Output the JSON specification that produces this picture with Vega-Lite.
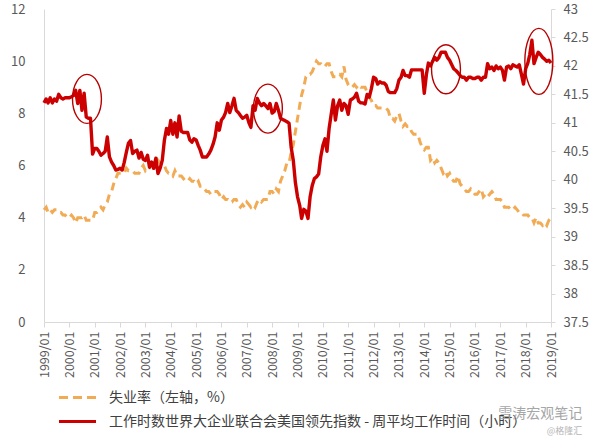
{
  "$schema": "https://vega.github.io/schema/vega-lite/v6.json",
  "width": 507,
  "height": 313,
  "autosize": "none",
  "padding": {"left": 44, "top": 9, "right": 49, "bottom": 117},
  "config": {
    "view": {"stroke": null},
    "font": "Noto Sans CJK SC",
    "axis": {"labelFont": "Noto Sans CJK SC", "labelColor": "#595959", "labelFontSize": 12.5, "domainColor": "#d9d9d9", "tickColor": "#d9d9d9", "grid": false, "title": null},
    "legend": {"labelFont": "Noto Sans CJK SC"},
    "title": {"font": "Noto Sans CJK SC", "subtitleFont": "Noto Sans CJK SC"}
  },
  "title": {"text": "雪涛宏观笔记", "subtitle": "@格隆汇", "orient": "bottom", "anchor": "end", "frame": "bounds", "fontSize": 14, "fontWeight": "normal", "color": "#a6a6a6", "subtitleFontSize": 9, "subtitleColor": "#b5b5b5", "subtitlePadding": 6, "offset": -22, "dx": -6},
  "data": {"values": [
    {"d":"1999-01","u":4.3,"h":41.35},{"d":"1999-02","u":4.4,"h":41.42},{"d":"1999-03","u":4.2,"h":41.35},{"d":"1999-04","u":4.3,"h":41.44},{"d":"1999-05","u":4.2,"h":41.35},{"d":"1999-06","u":4.3,"h":41.42},{"d":"1999-07","u":4.3,"h":41.38},{"d":"1999-08","u":4.2,"h":41.5},{"d":"1999-09","u":4.2,"h":41.44},{"d":"1999-10","u":4.1,"h":41.42},{"d":"1999-11","u":4.1,"h":41.44},{"d":"1999-12","u":4.0,"h":41.44},
    {"d":"2000-01","u":4.0,"h":41.44},{"d":"2000-02","u":4.1,"h":41.46},{"d":"2000-03","u":4.0,"h":41.48},{"d":"2000-04","u":3.8,"h":41.57},{"d":"2000-05","u":4.0,"h":41.34},{"d":"2000-06","u":4.0,"h":41.57},{"d":"2000-07","u":4.0,"h":41.22},{"d":"2000-08","u":4.1,"h":41.52},{"d":"2000-09","u":3.9,"h":41.1},{"d":"2000-10","u":3.9,"h":41.08},{"d":"2000-11","u":3.9,"h":41.08},{"d":"2000-12","u":3.9,"h":40.45},
    {"d":"2001-01","u":4.2,"h":40.55},{"d":"2001-02","u":4.2,"h":40.55},{"d":"2001-03","u":4.3,"h":40.5},{"d":"2001-04","u":4.4,"h":40.43},{"d":"2001-05","u":4.3,"h":40.46},{"d":"2001-06","u":4.5,"h":40.5},{"d":"2001-07","u":4.6,"h":40.75},{"d":"2001-08","u":4.9,"h":40.4},{"d":"2001-09","u":5.0,"h":40.31},{"d":"2001-10","u":5.3,"h":40.25},{"d":"2001-11","u":5.5,"h":40.17},{"d":"2001-12","u":5.7,"h":40.18},
    {"d":"2002-01","u":5.7,"h":40.2},{"d":"2002-02","u":5.7,"h":40.17},{"d":"2002-03","u":5.7,"h":40.3},{"d":"2002-04","u":5.9,"h":40.48},{"d":"2002-05","u":5.8,"h":40.64},{"d":"2002-06","u":5.8,"h":40.69},{"d":"2002-07","u":5.8,"h":40.46},{"d":"2002-08","u":5.7,"h":40.5},{"d":"2002-09","u":5.7,"h":40.52},{"d":"2002-10","u":5.7,"h":40.38},{"d":"2002-11","u":5.9,"h":40.48},{"d":"2002-12","u":6.0,"h":40.36},
    {"d":"2003-01","u":5.8,"h":40.34},{"d":"2003-02","u":5.9,"h":40.43},{"d":"2003-03","u":5.9,"h":40.22},{"d":"2003-04","u":6.0,"h":40.31},{"d":"2003-05","u":6.1,"h":40.2},{"d":"2003-06","u":6.3,"h":40.38},{"d":"2003-07","u":6.2,"h":40.11},{"d":"2003-08","u":6.1,"h":40.2},{"d":"2003-09","u":6.1,"h":40.34},{"d":"2003-10","u":6.0,"h":40.69},{"d":"2003-11","u":5.8,"h":40.9},{"d":"2003-12","u":5.7,"h":40.8},
    {"d":"2004-01","u":5.7,"h":41.04},{"d":"2004-02","u":5.6,"h":40.8},{"d":"2004-03","u":5.8,"h":41.0},{"d":"2004-04","u":5.6,"h":40.75},{"d":"2004-05","u":5.6,"h":41.12},{"d":"2004-06","u":5.6,"h":40.85},{"d":"2004-07","u":5.5,"h":40.83},{"d":"2004-08","u":5.4,"h":40.83},{"d":"2004-09","u":5.4,"h":40.83},{"d":"2004-10","u":5.5,"h":40.7},{"d":"2004-11","u":5.4,"h":40.66},{"d":"2004-12","u":5.4,"h":40.72},
    {"d":"2005-01","u":5.3,"h":40.7},{"d":"2005-02","u":5.4,"h":40.6},{"d":"2005-03","u":5.2,"h":40.52},{"d":"2005-04","u":5.2,"h":40.4},{"d":"2005-05","u":5.1,"h":40.4},{"d":"2005-06","u":5.0,"h":40.4},{"d":"2005-07","u":5.0,"h":40.45},{"d":"2005-08","u":4.9,"h":40.52},{"d":"2005-09","u":5.0,"h":40.62},{"d":"2005-10","u":5.0,"h":40.75},{"d":"2005-11","u":5.0,"h":41.0},{"d":"2005-12","u":4.9,"h":40.87},
    {"d":"2006-01","u":4.7,"h":41.05},{"d":"2006-02","u":4.8,"h":41.1},{"d":"2006-03","u":4.7,"h":41.18},{"d":"2006-04","u":4.7,"h":41.34},{"d":"2006-05","u":4.6,"h":41.18},{"d":"2006-06","u":4.6,"h":41.3},{"d":"2006-07","u":4.7,"h":41.43},{"d":"2006-08","u":4.7,"h":41.22},{"d":"2006-09","u":4.5,"h":41.18},{"d":"2006-10","u":4.4,"h":41.13},{"d":"2006-11","u":4.5,"h":41.08},{"d":"2006-12","u":4.4,"h":41.1},
    {"d":"2007-01","u":4.6,"h":41.13},{"d":"2007-02","u":4.5,"h":41.0},{"d":"2007-03","u":4.4,"h":40.92},{"d":"2007-04","u":4.5,"h":41.3},{"d":"2007-05","u":4.4,"h":41.22},{"d":"2007-06","u":4.6,"h":41.43},{"d":"2007-07","u":4.7,"h":41.35},{"d":"2007-08","u":4.6,"h":41.3},{"d":"2007-09","u":4.7,"h":41.34},{"d":"2007-10","u":4.7,"h":41.3},{"d":"2007-11","u":4.7,"h":41.25},{"d":"2007-12","u":5.0,"h":41.34},
    {"d":"2008-01","u":5.0,"h":41.17},{"d":"2008-02","u":4.9,"h":41.2},{"d":"2008-03","u":5.1,"h":41.34},{"d":"2008-04","u":5.0,"h":41.22},{"d":"2008-05","u":5.4,"h":41.08},{"d":"2008-06","u":5.6,"h":41.06},{"d":"2008-07","u":5.8,"h":41.04},{"d":"2008-08","u":6.1,"h":41.02},{"d":"2008-09","u":6.1,"h":40.99},{"d":"2008-10","u":6.5,"h":40.57},{"d":"2008-11","u":6.8,"h":40.34},{"d":"2008-12","u":7.3,"h":39.95},
    {"d":"2009-01","u":7.8,"h":39.7},{"d":"2009-02","u":8.3,"h":39.55},{"d":"2009-03","u":8.7,"h":39.32},{"d":"2009-04","u":9.0,"h":39.48},{"d":"2009-05","u":9.4,"h":39.45},{"d":"2009-06","u":9.5,"h":39.32},{"d":"2009-07","u":9.5,"h":39.7},{"d":"2009-08","u":9.6,"h":39.9},{"d":"2009-09","u":9.8,"h":40.02},{"d":"2009-10","u":10.0,"h":40.05},{"d":"2009-11","u":9.9,"h":40.1},{"d":"2009-12","u":9.9,"h":40.4},
    {"d":"2010-01","u":9.8,"h":40.6},{"d":"2010-02","u":9.8,"h":40.72},{"d":"2010-03","u":9.9,"h":40.5},{"d":"2010-04","u":9.9,"h":40.9},{"d":"2010-05","u":9.6,"h":41.15},{"d":"2010-06","u":9.4,"h":41.4},{"d":"2010-07","u":9.4,"h":41.05},{"d":"2010-08","u":9.5,"h":41.3},{"d":"2010-09","u":9.5,"h":41.4},{"d":"2010-10","u":9.4,"h":41.22},{"d":"2010-11","u":9.8,"h":41.34},{"d":"2010-12","u":9.3,"h":41.3},
    {"d":"2011-01","u":9.1,"h":41.15},{"d":"2011-02","u":9.0,"h":41.4},{"d":"2011-03","u":9.0,"h":41.42},{"d":"2011-04","u":9.1,"h":41.45},{"d":"2011-05","u":9.0,"h":41.52},{"d":"2011-06","u":9.1,"h":41.38},{"d":"2011-07","u":9.0,"h":41.35},{"d":"2011-08","u":9.0,"h":41.35},{"d":"2011-09","u":9.0,"h":41.33},{"d":"2011-10","u":8.8,"h":41.5},{"d":"2011-11","u":8.6,"h":41.45},{"d":"2011-12","u":8.5,"h":41.6},
    {"d":"2012-01","u":8.3,"h":41.8},{"d":"2012-02","u":8.3,"h":41.78},{"d":"2012-03","u":8.2,"h":41.68},{"d":"2012-04","u":8.2,"h":41.72},{"d":"2012-05","u":8.2,"h":41.7},{"d":"2012-06","u":8.2,"h":41.7},{"d":"2012-07","u":8.2,"h":41.66},{"d":"2012-08","u":8.1,"h":41.55},{"d":"2012-09","u":7.8,"h":41.53},{"d":"2012-10","u":7.8,"h":41.53},{"d":"2012-11","u":7.7,"h":41.53},{"d":"2012-12","u":7.9,"h":41.6},
    {"d":"2013-01","u":8.0,"h":41.75},{"d":"2013-02","u":7.7,"h":41.8},{"d":"2013-03","u":7.5,"h":41.92},{"d":"2013-04","u":7.6,"h":41.83},{"d":"2013-05","u":7.5,"h":41.83},{"d":"2013-06","u":7.5,"h":41.8},{"d":"2013-07","u":7.3,"h":41.93},{"d":"2013-08","u":7.2,"h":41.93},{"d":"2013-09","u":7.2,"h":41.93},{"d":"2013-10","u":7.2,"h":41.93},{"d":"2013-11","u":6.9,"h":41.93},{"d":"2013-12","u":6.7,"h":41.93},
    {"d":"2014-01","u":6.6,"h":41.52},{"d":"2014-02","u":6.7,"h":41.85},{"d":"2014-03","u":6.7,"h":42.05},{"d":"2014-04","u":6.2,"h":42.0},{"d":"2014-05","u":6.3,"h":42.08},{"d":"2014-06","u":6.1,"h":42.15},{"d":"2014-07","u":6.2,"h":42.1},{"d":"2014-08","u":6.1,"h":42.15},{"d":"2014-09","u":5.9,"h":42.24},{"d":"2014-10","u":5.7,"h":42.24},{"d":"2014-11","u":5.8,"h":42.24},{"d":"2014-12","u":5.6,"h":42.15},
    {"d":"2015-01","u":5.7,"h":42.1},{"d":"2015-02","u":5.5,"h":42.02},{"d":"2015-03","u":5.4,"h":41.95},{"d":"2015-04","u":5.4,"h":41.92},{"d":"2015-05","u":5.6,"h":41.88},{"d":"2015-06","u":5.3,"h":41.83},{"d":"2015-07","u":5.2,"h":41.8},{"d":"2015-08","u":5.1,"h":41.8},{"d":"2015-09","u":5.0,"h":41.75},{"d":"2015-10","u":5.0,"h":41.8},{"d":"2015-11","u":5.1,"h":41.8},{"d":"2015-12","u":5.0,"h":41.78},
    {"d":"2016-01","u":4.9,"h":41.78},{"d":"2016-02","u":4.9,"h":41.8},{"d":"2016-03","u":5.0,"h":41.8},{"d":"2016-04","u":5.1,"h":41.75},{"d":"2016-05","u":4.8,"h":41.8},{"d":"2016-06","u":4.9,"h":41.8},{"d":"2016-07","u":4.8,"h":42.04},{"d":"2016-08","u":4.9,"h":41.95},{"d":"2016-09","u":5.0,"h":41.98},{"d":"2016-10","u":4.9,"h":41.92},{"d":"2016-11","u":4.7,"h":42.0},{"d":"2016-12","u":4.7,"h":41.95},
    {"d":"2017-01","u":4.7,"h":41.98},{"d":"2017-02","u":4.6,"h":41.92},{"d":"2017-03","u":4.4,"h":41.75},{"d":"2017-04","u":4.4,"h":41.98},{"d":"2017-05","u":4.4,"h":42.0},{"d":"2017-06","u":4.3,"h":41.95},{"d":"2017-07","u":4.3,"h":42.02},{"d":"2017-08","u":4.4,"h":42.0},{"d":"2017-09","u":4.3,"h":41.98},{"d":"2017-10","u":4.2,"h":42.02},{"d":"2017-11","u":4.2,"h":41.85},{"d":"2017-12","u":4.1,"h":41.68},
    {"d":"2018-01","u":4.1,"h":41.95},{"d":"2018-02","u":4.1,"h":42.05},{"d":"2018-03","u":4.0,"h":42.2},{"d":"2018-04","u":4.0,"h":42.45},{"d":"2018-05","u":3.8,"h":42.04},{"d":"2018-06","u":4.0,"h":42.15},{"d":"2018-07","u":3.8,"h":42.24},{"d":"2018-08","u":3.8,"h":42.2},{"d":"2018-09","u":3.7,"h":42.15},{"d":"2018-10","u":3.8,"h":42.12},{"d":"2018-11","u":3.7,"h":42.08},{"d":"2018-12","u":3.9,"h":42.1},
    {"d":"2019-01","u":4.0,"h":42.05}
  ]},
  "encoding": {
    "x": {
      "field": "d", "type": "temporal",
      "scale": {"domain": [{"year": 1999, "month": 1, "date": 1}, {"year": 2019, "month": 1, "date": 1}]},
      "axis": {"orient": "bottom", "format": "%Y/%m", "tickCount": {"interval": "year", "step": 1}, "labelAngle": -90, "labelFlush": false, "labelOverlap": false, "tickSize": 5, "labelPadding": 4, "labelFontSize": 12.5}
    }
  },
  "layer": [
    {
      "mark": {"type": "line", "strokeWidth": 3, "strokeDash": [8, 5]},
      "encoding": {
        "y": {"field": "u", "type": "quantitative", "scale": {"domain": [0, 12], "nice": false}, "axis": {"orient": "left", "values": [0, 2, 4, 6, 8, 10, 12], "ticks": false, "labelPadding": 19, "labelFontSize": 13}},
        "color": {
          "datum": "失业率（左轴，%）",
          "scale": {"domain": ["失业率（左轴，%）", "工作时数世界大企业联合会美国领先指数 - 周平均工作时间（小时）"], "range": ["#f2ab55", "#cc0000"]},
          "legend": {
            "orient": "none", "legendX": 26, "legendY": 381, "direction": "vertical", "title": null, "padding": 0,
            "symbolType": "M -3.08 0 L 3.08 0", "symbolSize": 144, "symbolStrokeWidth": 3, "symbolFillColor": "transparent",
            "labelFontSize": 14, "labelColor": "#404040", "labelOffset": 24, "labelLimit": 0, "rowPadding": 9,
            "encode": {"symbols": {"update": {"strokeDash": {"signal": "datum.value === '失业率（左轴，%）' ? [9, 5] : [1, 0]"}}}}
          }
        }
      }
    },
    {
      "encoding": {
        "y": {"field": "h", "type": "quantitative", "scale": {"domain": [37.5, 43], "nice": false, "zero": false}, "axis": {"orient": "right", "values": [37.5, 38, 38.5, 39, 39.5, 40, 40.5, 41, 41.5, 42, 42.5, 43], "format": "~g", "tickSize": 4, "labelPadding": 8, "labelFontSize": 13}}
      },
      "layer": [
        {
          "mark": {"type": "line", "strokeWidth": 3.4, "strokeJoin": "round"},
          "encoding": {"color": {"datum": "工作时数世界大企业联合会美国领先指数 - 周平均工作时间（小时）"}}
        },
        {
          "data": {"values": [
            {"d": "2000-09-11", "h": 41.42},
            {"d": "2007-11-01", "h": 41.25},
            {"d": "2014-11-10", "h": 41.94}
          ]},
          "mark": {"type": "point", "shape": "M 0 -1 A 0.59 1 0 1 1 0 1 A 0.59 1 0 1 1 0 -1 Z", "size": 2401, "filled": false, "stroke": "#b80000", "strokeWidth": 1.4, "opacity": 1}
        },
        {
          "data": {"values": [
            {"d": "2018-07-10", "h": 42.08}
          ]},
          "mark": {"type": "point", "shape": "M 0 -1 A 0.424 1 0 1 1 0 1 A 0.424 1 0 1 1 0 -1 Z", "size": 4356, "filled": false, "stroke": "#b80000", "strokeWidth": 1.4, "opacity": 1}
        }
      ]
    }
  ],
  "resolve": {"scale": {"y": "independent"}}
}
